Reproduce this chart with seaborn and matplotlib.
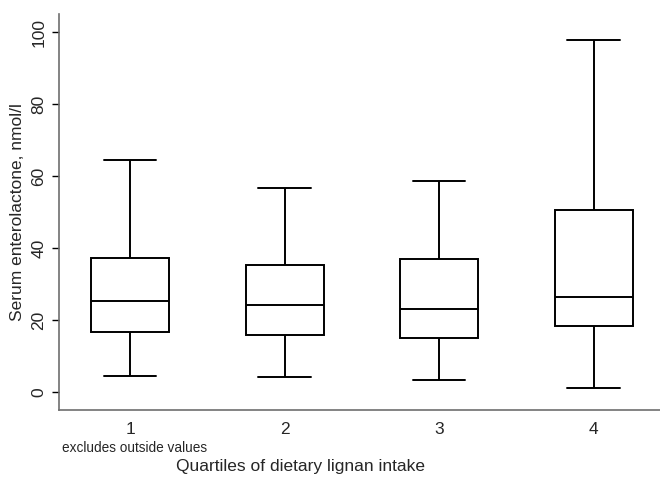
import matplotlib
matplotlib.use("Agg")
import matplotlib.pyplot as plt
import seaborn as sns
import numpy as np
import pandas as pd

# Five-number summaries per quartile group (min whisker, Q1, median, Q3, max whisker)
groups = ["1", "2", "3", "4"]
lower_whisker = [4.4, 4.25, 3.4, 1.2]
q1 = [16.8, 15.8, 15.0, 18.3]
median = [25.4, 24.1, 23.2, 26.4]
q3 = [37.3, 35.4, 37.0, 50.6]
upper_whisker = [64.6, 56.6, 58.7, 97.9]

rows = []
for g, a, b, c, d, e in zip(groups, lower_whisker, q1, median, q3, upper_whisker):
    for v in (a, b, c, d, e):
        rows.append({"group": g, "value": v})
df = pd.DataFrame(rows)

sns.set_theme(style="white")
plt.rcParams["font.family"] = ["Liberation Sans", "DejaVu Sans"]

fig = plt.figure(figsize=(6.6, 4.8), dpi=100)
ax = fig.add_axes([59 / 660, 1 - 410.3 / 480, 1 - 59 / 660, (410.3 - 14) / 480])

lw = 1.4
sns.boxplot(data=df, x="group", y="value", order=groups, whis=np.inf, width=0.505,
            color="white", linecolor="black", linewidth=lw, ax=ax,
            capwidths=0.34,
            boxprops=dict(facecolor="white", edgecolor="black", linewidth=lw),
            medianprops=dict(color="black", linewidth=lw),
            whiskerprops=dict(color="black", linewidth=lw),
            capprops=dict(color="black", linewidth=lw))

ax.set_xlim(-0.46, 3.43)
ax.set_ylim(-5, 105)
ax.set_yticks([0, 20, 40, 60, 80, 100])
ax.set_yticklabels(["0", "20", "40", "60", "80", "100"], rotation=90, va="center")

for s in ("top", "right"):
    ax.spines[s].set_visible(False)
for s in ("left", "bottom"):
    ax.spines[s].set_color("#6e6e6e")
    ax.spines[s].set_linewidth(1.2)

fs = 12.5
ax.tick_params(axis="y", which="both", left=True, length=5, width=1, color="black",
               labelsize=fs, pad=4)
ax.tick_params(axis="x", which="both", bottom=False, labelsize=fs, pad=2.5)

ax.set_ylabel("")
ax.set_xlabel("")
fig.text(18 / 660, 1 - 212 / 480, "Serum enterolactone, nmol/l", rotation=90,
         ha="center", va="center", fontsize=fs)
fig.text(300 / 660, 1 - 467 / 480, "Quartiles of dietary lignan intake",
         ha="center", va="center", fontsize=fs)
fig.text(62 / 660, 1 - 447.5 / 480, "excludes outside values",
         ha="left", va="center", fontsize=9.8)

fig.savefig("out.png", dpi=100, facecolor="white")
